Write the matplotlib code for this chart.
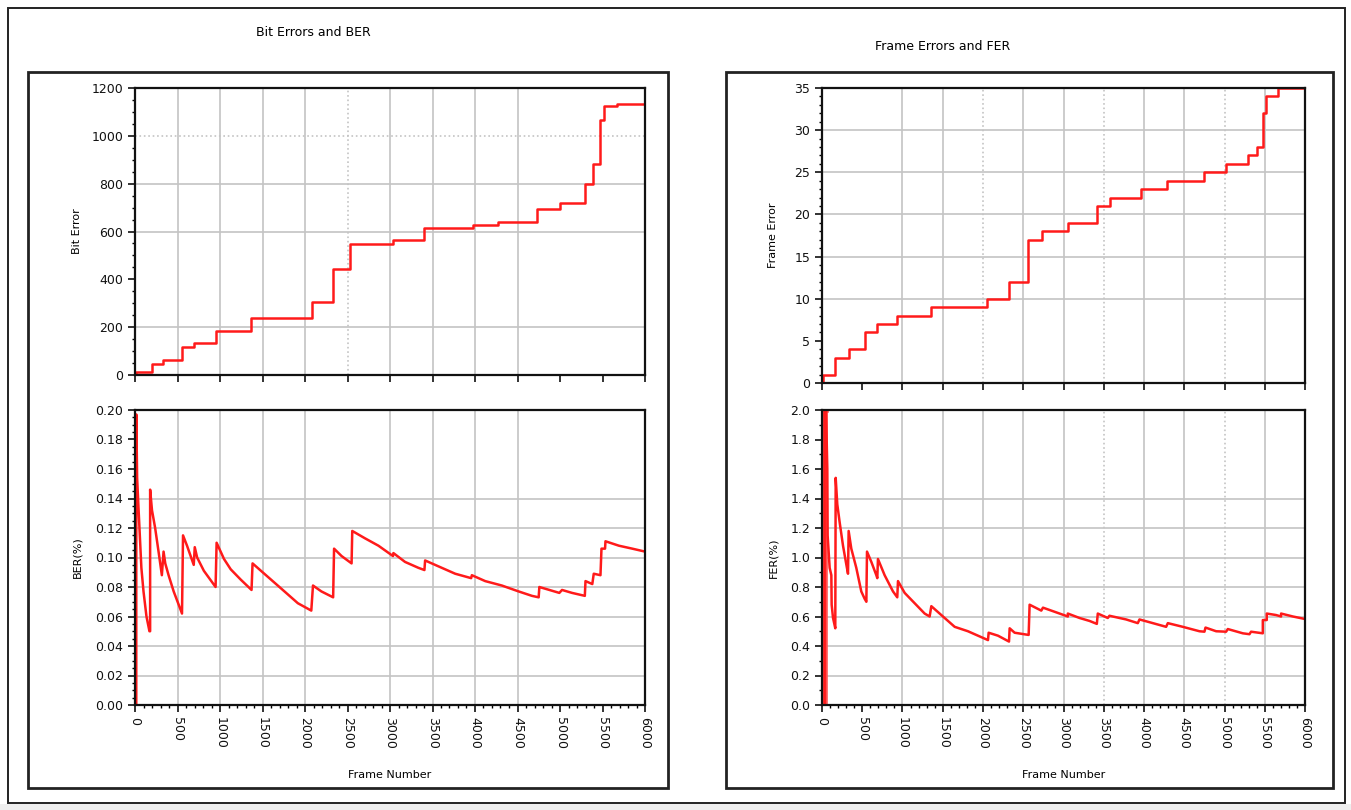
import matplotlib
matplotlib.use('Agg')
import matplotlib.pyplot as plt
from matplotlib.ticker import MultipleLocator, FormatStrFormatter
from matplotlib.patches import Rectangle

W, H = 1351, 810

# cumulative bit errors (step changes)
bit_frames = [0, 10, 196, 325, 557, 694, 953, 1361, 2079, 2326, 2530, 3040,
              3400, 3973, 4275, 4734, 5000, 5295, 5385, 5471, 5518, 5667, 6000]
bit_errors = [0, 14, 46, 62, 118, 135, 184, 240, 305, 444, 548, 565,
              614, 628, 638, 696, 718, 797, 881, 1068, 1123, 1133, 1133]

# cumulative frame errors (step changes)
fe_frames = [0, 12, 157, 331, 538, 683, 931, 1353, 2048, 2317, 2557, 2731, 3050,
             3414, 3580, 3960, 4283, 4746, 5015, 5297, 5400, 5475, 5516, 5669, 6000]
frame_errors = [0, 1, 3, 4, 6, 7, 8, 9, 10, 12, 17, 18, 19,
                21, 22, 23, 24, 25, 26, 27, 28, 32, 34, 35, 35]

# BER (%) trace
ber_frames = [15, 15, 25, 40, 55, 75, 100, 135, 170, 178, 178, 200, 237, 277, 316,
              336, 356, 395, 455, 514, 553, 565, 612, 691, 703, 731, 810, 948,
              960, 1047, 1126, 1244, 1371, 1383, 1521, 1719, 1916, 2074, 2094,
              2193, 2331, 2342, 2430, 2548, 2556, 2706, 2864, 3035, 3040, 3177,
              3334, 3405, 3413, 3570, 3767, 3955, 3963, 4120, 4316, 4513, 4670,
              4749, 4757, 4875, 4992, 5024, 5142, 5292, 5300, 5380, 5397, 5476,
              5488, 5530, 5535, 5693, 5850, 6000]
ber_pct = [0.000, 0.197, 0.154, 0.135, 0.117, 0.093, 0.077, 0.060, 0.050, 0.050, 0.146,
           0.132, 0.120, 0.104, 0.088, 0.104, 0.096, 0.088, 0.077, 0.068, 0.062,
           0.115, 0.108, 0.095, 0.107, 0.100, 0.091, 0.080, 0.110, 0.099, 0.092,
           0.085, 0.078, 0.096, 0.089, 0.079, 0.069, 0.064, 0.081, 0.077, 0.073,
           0.106, 0.101, 0.096, 0.118, 0.113, 0.108, 0.101, 0.103, 0.097, 0.093,
           0.0915, 0.098, 0.094, 0.089, 0.086, 0.088, 0.084, 0.081, 0.077, 0.074,
           0.073, 0.080, 0.078, 0.076, 0.078, 0.076, 0.074, 0.084, 0.082, 0.089,
           0.088, 0.106, 0.106, 0.111, 0.108, 0.106, 0.104]

# FER (%) trace
fer_frames = [33, 33, 50, 66, 70, 95, 116, 120, 137, 165, 170, 190, 219, 261, 303,
              323, 331, 364, 426, 488, 530, 551, 559, 613, 675, 687, 695, 778,
              882, 935, 944, 1027, 1151, 1275, 1337, 1358, 1482, 1648, 1813, 1979,
              2062, 2070, 2186, 2323, 2331, 2393, 2567, 2579, 2724, 2745, 2900,
              3054, 3054, 3199, 3323, 3414, 3426, 3550, 3571, 3778, 3923, 3944,
              4110, 4275, 4296, 4482, 4689, 4751, 4764, 4896, 5020, 5041, 5228,
              5310, 5330, 5476, 5476, 5525, 5525, 5640, 5703, 5703, 5850, 6000]
fer_pct = [0.0, 2.0, 2.0, 1.60, 1.15, 0.93, 0.88, 0.68, 0.59, 0.52, 1.54, 1.36,
           1.24, 1.08, 0.95, 0.89, 1.18, 1.06, 0.93, 0.77, 0.72, 0.70, 1.04, 0.97,
           0.88, 0.86, 0.99, 0.88, 0.77, 0.73, 0.84, 0.76, 0.69, 0.62, 0.60, 0.67,
           0.61, 0.53, 0.50, 0.46, 0.44, 0.49, 0.47, 0.43, 0.52, 0.49, 0.475, 0.68,
           0.64, 0.66, 0.63, 0.60, 0.62, 0.59, 0.57, 0.55, 0.62, 0.59, 0.605, 0.58,
           0.555, 0.58, 0.555, 0.53, 0.555, 0.53, 0.50, 0.497, 0.525, 0.50, 0.497,
           0.515, 0.486, 0.48, 0.497, 0.486, 0.576, 0.576, 0.62, 0.61, 0.60, 0.62,
           0.60, 0.583]

red = '#ff1a1a'
grid_c = '#c4c4c4'

fig = plt.figure(figsize=(W / 100, H / 100), dpi=100)
fig.patch.set_facecolor('white')


def rect(x0, y0, x1, y1):
    return [x0 / W, 1 - y1 / H, (x1 - x0) / W, (y1 - y0) / H]


def frame(x0, y0, x1, y1, lw):
    fig.patches.append(Rectangle((x0 / W, 1 - y1 / H), (x1 - x0) / W, (y1 - y0) / H,
                                 transform=fig.transFigure, fill=False,
                                 ec='#222222', lw=lw))


# outer border and the two panel frames
fig.patches.append(Rectangle((0, 0), 1, 6 / H, transform=fig.transFigure,
                             fc='#eeeeee', ec='none'))
frame(8, 8, 1345, 803, 1.4)
frame(28, 72, 668, 788, 2.0)
frame(726, 72, 1333, 788, 2.0)


def style(ax, ymax, ymajor, yminor, yfmt, bottom):
    ax.set_xlim(0, 6000)
    ax.set_ylim(0, ymax)
    ax.xaxis.set_major_locator(MultipleLocator(500))
    if bottom:
        ax.xaxis.set_minor_locator(MultipleLocator(100))
    ax.yaxis.set_major_locator(MultipleLocator(ymajor))
    ax.yaxis.set_minor_locator(MultipleLocator(yminor))
    ax.yaxis.set_major_formatter(FormatStrFormatter(yfmt))
    ax.tick_params(which='major', direction='out', length=5, width=1.2,
                   labelsize=9, colors='#111111')
    ax.tick_params(which='minor', direction='out', length=2.5, width=1.0)
    for s in ax.spines.values():
        s.set_linewidth(1.6)
        s.set_color('#111111')
    if bottom:
        ax.xaxis.set_major_formatter(FormatStrFormatter('%d'))
        for lab in ax.get_xticklabels():
            lab.set_rotation(270)
        ax.set_xlabel('Frame Number', fontsize=8)
        ax.xaxis.set_label_coords(0.5, -0.22)
    else:
        ax.tick_params(labelbottom=False)


def grid(ax, xs, ys, x_dotted=(), y_dotted=()):
    # hand-placed grid, some lines missing / dotted as in the screenshot
    for v in xs:
        ls = ':' if v in x_dotted else '-'
        ax.axvline(v, color=grid_c, lw=1.2, ls=ls, zorder=0)
    for v in ys:
        ls = ':' if v in y_dotted else '-'
        ax.axhline(v, color=grid_c, lw=1.2, ls=ls, zorder=0)


# left panel: bit errors and BER
ax1 = fig.add_axes(rect(135, 88, 645, 375))
grid(ax1, [500, 1000, 1500, 2000, 2500, 3000, 3500, 4000, 4500],
     [200, 600, 800, 1000], x_dotted=[2500], y_dotted=[1000])
ax1.plot(bit_frames, bit_errors, drawstyle='steps-post', color=red, lw=1.8)
style(ax1, 1200, 200, 50, '%d', False)
ax1.set_ylabel('Bit Error', fontsize=8)
ax1.yaxis.set_label_coords(-0.104, 0.5)

ax2 = fig.add_axes(rect(135, 410, 645, 705))
grid(ax2, [500, 1000, 1500, 2000, 3000, 3500, 4000, 4500],
     [0.02, 0.04, 0.06, 0.08, 0.10, 0.12, 0.14])
ax2.plot(ber_frames, ber_pct, color=red, lw=1.8)
style(ax2, 0.20, 0.02, 0.005, '%.2f', True)
ax2.set_ylabel('BER(%)', fontsize=8)
ax2.yaxis.set_label_coords(-0.104, 0.5)

# right panel: frame errors and FER
ax3 = fig.add_axes(rect(822, 88, 1305, 383))
grid(ax3, [1000, 1500, 2000, 2500, 3000, 3500, 4000, 4500, 5000, 5500],
     [10, 15, 20, 25, 30], x_dotted=[2000, 3500, 5000])
ax3.plot(fe_frames, frame_errors, drawstyle='steps-post', color=red, lw=1.8)
style(ax3, 35, 5, 1, '%d', False)
ax3.set_ylabel('Frame Error', fontsize=8)
ax3.yaxis.set_label_coords(-0.091, 0.5)

ax4 = fig.add_axes(rect(822, 410, 1305, 705))
grid(ax4, [1000, 1500, 2000, 2500, 3000, 3500, 4000, 4500, 5000, 5500],
     [0.2, 0.4, 0.6, 0.8, 1.0, 1.2, 1.4], x_dotted=[3500, 5000])
ax4.plot(fer_frames[:3], fer_pct[:3], color='#ff5050', lw=4)
ax4.plot(fer_frames, fer_pct, color=red, lw=1.8)
style(ax4, 2.0, 0.2, 0.1, '%.1f', True)
ax4.set_ylabel('FER(%)', fontsize=8)
ax4.yaxis.set_label_coords(-0.091, 0.5)

fig.text(313 / W, 1 - 32 / H, 'Bit Errors and BER', ha='center', va='center', fontsize=9)
fig.text(943 / W, 1 - 47 / H, 'Frame Errors and FER', ha='center', va='center', fontsize=9)

fig.savefig('out.png', dpi=100)
